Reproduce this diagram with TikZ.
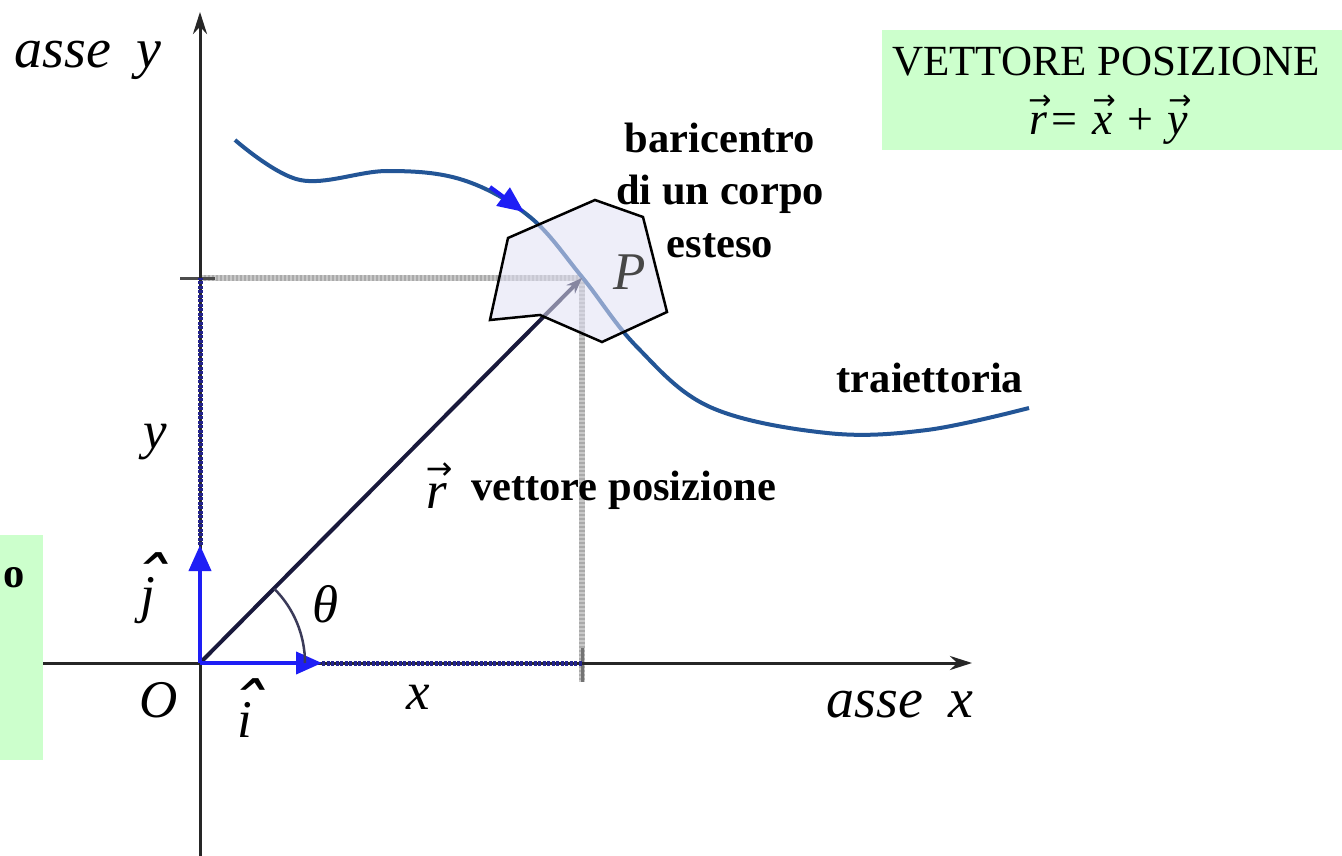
\documentclass[tikz,border=0pt]{standalone}
\usepackage{fontspec}
\usepackage{graphicx}
\setmainfont{Liberation Serif}
\newfontfamily\arrowfont{DejaVu Sans}
\usetikzlibrary{arrows.meta}
\definecolor{curveblue}{RGB}{35,85,150}
\definecolor{vecblue}{RGB}{30,30,245}
\definecolor{navy}{RGB}{25,25,60}
\definecolor{dotblue}{RGB}{35,35,140}
\definecolor{boxgreen}{RGB}{204,255,204}
\definecolor{bodyfill}{RGB}{225,225,245}
\definecolor{dotgray}{RGB}{200,200,200}
\definecolor{dotgraydark}{RGB}{170,170,170}
\newcommand\vv[1]{\ooalign{\hfil\hspace{0.08em}\raisebox{0.55em}{\arrowfont\scalebox{0.6}{→}}\hfil\cr\hfil\itshape #1\hfil\cr}}
\newcommand\hh[1]{\ooalign{\hfil\hspace{0.1em}\raisebox{0.16em}{\arrowfont\scalebox{1.5}[1.2]{\symbol{"02C6}}}\hfil\cr\hfil\itshape #1\hfil\cr}}
\begin{document}
\begin{tikzpicture}[x=1pt,y=-1pt,
  lab/.style={font=\fontsize{53}{56}\selectfont\itshape, inner sep=0pt},
  boldlab/.style={font=\fontsize{42.5}{52.5}\selectfont\bfseries, inner sep=0pt, align=center},
  axisline/.style={line width=3pt, draw=black!85, -{Stealth[length=22pt,width=14pt]}},
  unitvec/.style={line width=4pt, draw=vecblue, -{Triangle[length=26pt,width=22pt]}},
  bluedots/.style={line width=5pt, draw=dotblue, dash pattern=on 3pt off 1.5pt},
  graybase/.style={line width=5.5pt, draw=dotgray},
  graydots/.style={line width=5.5pt, draw=dotgraydark, dash pattern=on 1.5pt off 2.5pt},
  curve/.style={line width=4pt, draw=curveblue},
  greenbox/.style={fill=boxgreen, draw=none, inner sep=0pt},
]
\useasboundingbox (0,0) rectangle (1342,856);
\fill[white] (0,0) rectangle (1342,856);

\coordinate (O) at (200,663);
\coordinate (P) at (582,278);
\coordinate (Ytop) at (200,12);
\coordinate (Ybot) at (200,856);
\coordinate (Xleft) at (43,663);
\coordinate (Xright) at (972,663);
\coordinate (Py) at (200,278);
\coordinate (Px) at (582,663);
\coordinate (Pxlow) at (582,682);
\coordinate (Itip) at (322,663);
\coordinate (Jtip) at (200,545);

% green boxes
\node[greenbox, minimum width=460pt, minimum height=120pt] (formulabox) at (1112,90) {};
\node[font=\fontsize{43}{46}\selectfont, inner sep=0pt] (title) at (1106,62) {VETTORE POSIZIONE};
\node[font=\fontsize{46}{48}\selectfont, inner sep=0pt] (formula) at (1108,120) {\vv{r}= \vv{x} + \vv{y}};
\node[greenbox, minimum width=43pt, minimum height=225pt] (leftbox) at (21.5,647.5) {};
\node[boldlab, anchor=west] (lefttext) at (3,578) {o};

% guide lines
\draw[graybase] (Py) -- (P);
\draw[graydots] (Py) -- (P);
\draw[graybase] (P) -- (Pxlow);
\draw[graydots] (P) -- (Pxlow);
\draw[line width=3pt, black!55] (582,648) -- (Pxlow);
\draw[line width=3pt, black!70] (180,278) -- (215,278);

% axes
\draw[axisline] (Ybot) -- (Ytop);
\draw[axisline] (Xleft) -- (Xright);

% trajectory
\draw[curve] plot[smooth, tension=0.6] coordinates {(235,140) (300,180) (387,171) (463,180) (530,217) (582,277) (637,347) (710,407) (827,433) (927,430) (1029,408)};
\draw[line width=4pt, vecblue, -{Triangle[length=26pt,width=22pt]}] (490,187) -- (524,212);

% position vector
\draw[line width=4pt, navy, -{Stealth[length=16pt,width=12pt]}] (O) -- (P);

% body
\filldraw[fill=bodyfill, fill opacity=0.55, draw=black, line width=2.5pt] (595,200) -- (643,217) -- (667,312) -- (602,342) -- (540,315) -- (490,320) -- (508,238) -- cycle;

% unit vectors and components
\draw[bluedots] (Jtip) -- (Py);
\draw[bluedots] (Itip) -- (Px);
\draw[unitvec] (O) -- (Jtip);
\draw[unitvec] (O) -- (Itip);

% angle
\draw[line width=2.5pt, navy!85] (O) ++(-45:105) arc[start angle=-45, end angle=0, radius=105];

% labels
\node[lab, fill=white, inner sep=2pt] (theta) at (326,604) {θ};
\node[lab, font=\fontsize{56}{58}\selectfont\itshape] (ay) at (88,60) {asse\hspace{0.45em}y};
\node[lab, font=\fontsize{56}{58}\selectfont\itshape] (ax) at (900,705) {asse\hspace{0.45em}x};
\node[lab] (Olab) at (159,700) {O};
\node[lab] (ylab) at (155,442) {y};
\node[lab] (xlab) at (418,697) {x};
\node[lab] (jlab) at (148,588) {\hh{j}};
\node[lab] (ilab) at (245,708) {\hh{i}};
\node[lab, text=black!72] (Plab) at (630,272) {P};
\node[boldlab] (bari) at (720,190) {baricentro\\di un corpo\\esteso};
\node[boldlab] (traj) at (930,378) {traiettoria};
\node[lab] (rlab) at (437,486) {\vv{r}};
\node[boldlab, anchor=west] (vplab) at (471,490) {vettore posizione};
\end{tikzpicture}
\end{document}
